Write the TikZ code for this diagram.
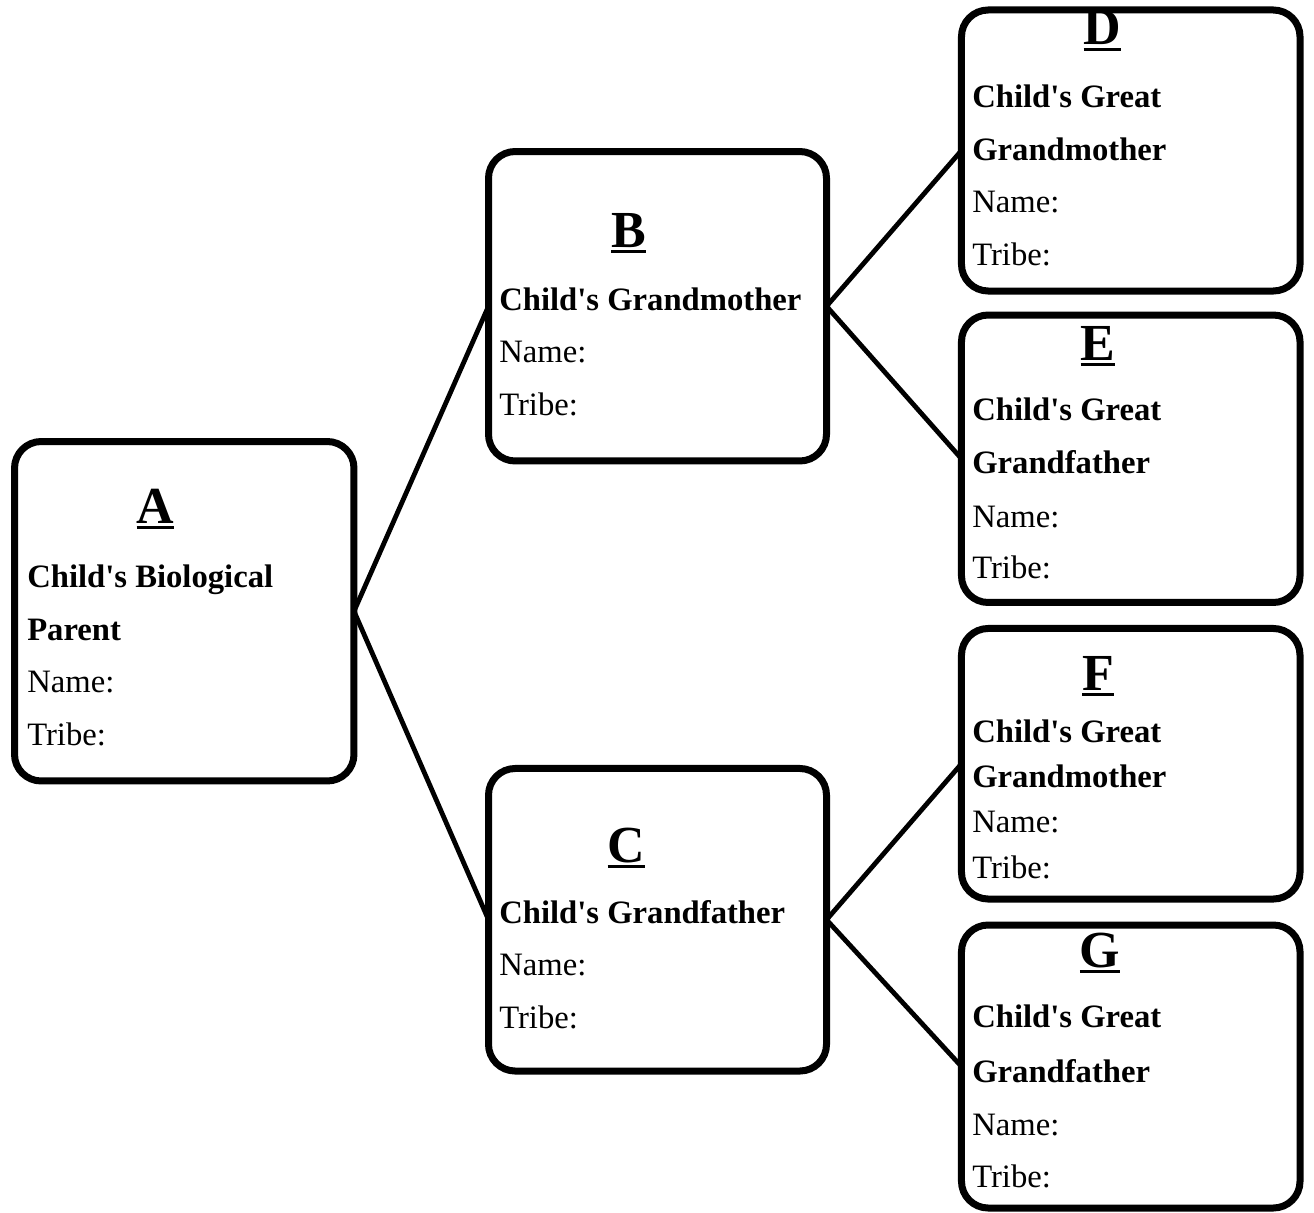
\documentclass[tikz,border=0pt]{standalone}
\usepackage{fontspec}
\setmainfont{Liberation Serif}
\newcommand\ulletter[1]{\setbox0\hbox{#1}\rlap{\rule[-4.8pt]{\wd0}{2.2pt}}\box0}
\newcommand\sq{\textquotesingle}
\begin{document}
\begin{tikzpicture}[x=0.75pt,y=-0.75pt,
  famebox/.style={draw, line width=5.25pt, rounded corners=20pt, fill=white,
    inner sep=0pt, outer sep=0pt, minimum width=253.9pt},
  link/.style={line width=3.6pt},
  bodytext/.style={anchor=base west, inner sep=0pt, font=\fontsize{24.5}{24.5}\selectfont},
  headtext/.style={anchor=base west, inner sep=0pt, font=\bfseries\fontsize{24.5}{24.5}\selectfont},
  lettertext/.style={anchor=base, inner sep=0pt, font=\bfseries\fontsize{39}{39}\selectfont}]
\useasboundingbox[fill=white] (0,0) rectangle (1314,1213);

% boxes
\node[famebox, minimum width=254.6pt, minimum height=254.6pt] (A) at (184.25,611.25) {};
\node[famebox, minimum width=253.5pt, minimum height=232.1pt] (B) at (657.5,306.25) {};
\node[famebox, minimum width=253.5pt, minimum height=226.9pt] (C) at (657.5,919.75) {};
\node[famebox, minimum height=210.75pt] (D) at (1130.75,150.5) {};
\node[famebox, minimum height=215.6pt] (E) at (1130.75,458.75) {};
\node[famebox, minimum height=202.9pt] (F) at (1130.75,763.75) {};
\node[famebox, minimum height=212.25pt] (G) at (1130.75,1066.5) {};

% connectors
\draw[link] (A.east) -- (B.west);
\draw[link] (A.east) -- (C.west);
\draw[link] (B.east) -- (D.west);
\draw[link] (B.east) -- (E.west);
\draw[link] (C.east) -- (F.west);
\draw[link] (C.east) -- (G.west);

% A
\node[lettertext] (Aletter) at (155.5,523) {\ulletter{A}};
\node[headtext] (Ahead1) at (27,587) {Child\sq s Biological};
\node[headtext] (Ahead2) at (27,640) {Parent};
\node[bodytext] (Aname) at (27,692) {Name:};
\node[bodytext] (Atribe) at (27,745) {Tribe:};

% B
\node[lettertext] (Bletter) at (628.5,247) {\ulletter{B}};
\node[headtext] (Bhead) at (499,310) {Child\sq s Grandmother};
\node[bodytext] (Bname) at (499,362) {Name:};
\node[bodytext] (Btribe) at (499,415) {Tribe:};

% C
\node[lettertext] (Cletter) at (626.5,862) {\ulletter{C}};
\node[headtext] (Chead) at (499,923) {Child\sq s Grandfather};
\node[bodytext] (Cname) at (499,975) {Name:};
\node[bodytext] (Ctribe) at (499,1028) {Tribe:};

% D
\node[lettertext] (Dletter) at (1102.5,45) {\ulletter{D}};
\node[headtext] (Dhead1) at (972,108) {Child\sq s Great};
\node[headtext] (Dhead2) at (972,160) {Grandmother};
\node[bodytext] (Dname) at (972,212) {Name:};
\node[bodytext] (Dtribe) at (972,265) {Tribe:};

% E
\node[lettertext] (Eletter) at (1098,360) {\ulletter{E}};
\node[headtext] (Ehead1) at (972,420) {Child\sq s Great};
\node[headtext] (Ehead2) at (972,473) {Grandfather};
\node[bodytext] (Ename) at (972,527) {Name:};
\node[bodytext] (Etribe) at (972,578) {Tribe:};

% F
\node[lettertext] (Fletter) at (1098,690) {\ulletter{F}};
\node[headtext] (Fhead1) at (972,742) {Child\sq s Great};
\node[headtext] (Fhead2) at (972,787) {Grandmother};
\node[bodytext] (Fname) at (972,832) {Name:};
\node[bodytext] (Ftribe) at (972,878) {Tribe:};

% G
\node[lettertext] (Gletter) at (1100,967) {\ulletter{G}};
\node[headtext] (Ghead1) at (972,1027) {Child\sq s Great};
\node[headtext] (Ghead2) at (972,1082) {Grandfather};
\node[bodytext] (Gname) at (972,1135) {Name:};
\node[bodytext] (Gtribe) at (972,1187) {Tribe:};
\end{tikzpicture}
\end{document}
